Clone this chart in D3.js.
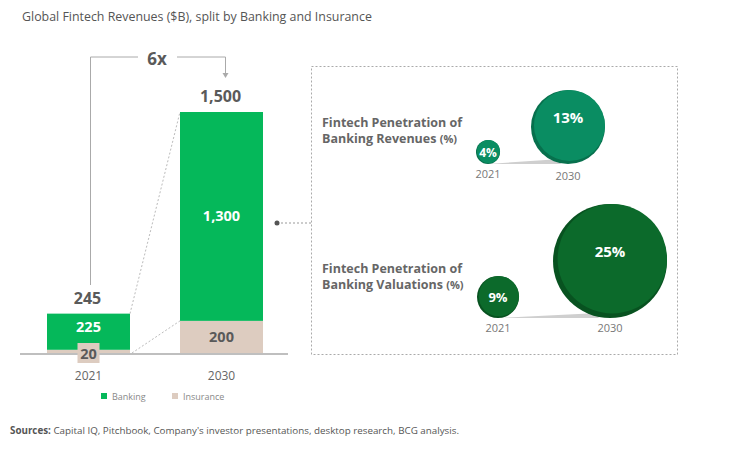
<!doctype html>
<html>
<head>
<meta charset="utf-8">
<style>
	body { margin: 0; background: #fff; }
	text { font-family: "Open Sans", "Noto Sans", sans-serif; }
</style>
</head>
<body>
	<div class="figure"></div>

	<script src="https://d3js.org/d3.v7.min.js"></script>
	<script>
		// данные
		let years = ["2021", "2030"];
		let banking = [225, 1300];
		let insurance = [20, 200];
		let multiple = "6x";
		let seriesNames = ["Banking", "Insurance"];
		let revenuePen = [4, 13];
		let valuationPen = [9, 25];

		let GREEN = "#05b85a";
		let BEIGE = "#ddccc0";
		let GREY = "#5a5a5a";

		let svg = d3.select(".figure")
			.append("svg")
			.attr("width", 740)
			.attr("height", 454);

		svg.append("text")
			.attr("x", 22).attr("y", 21)
			.style("font-size", "12.4px").style("fill", "#555")
			.text("Global Fintech Revenues ($B), split by Banking and Insurance");

		// столбцы
		let x = d3.scaleBand().domain(years).range([22, 288]).paddingInner(0.376).paddingOuter(0.188);
		let y = d3.scaleLinear().domain([0, 1500]).range([353, 112]);

		let rows = years.map((yr, i) => ({ year: yr, banking: banking[i], insurance: insurance[i], total: banking[i] + insurance[i] }));

		svg.selectAll("rect.ins").data(rows).enter().append("rect")
			.attr("x", d => x(d.year)).attr("width", x.bandwidth())
			.attr("y", d => y(d.insurance)).attr("height", d => y(0) - y(d.insurance))
			.style("fill", BEIGE);

		svg.selectAll("rect.bank").data(rows).enter().append("rect")
			.attr("x", d => x(d.year)).attr("width", x.bandwidth())
			.attr("y", d => y(d.total)).attr("height", d => y(d.insurance) - y(d.total))
			.style("fill", GREEN);

		// ось
		svg.append("line").attr("x1", 20).attr("x2", 288).attr("y1", 354).attr("y2", 354)
			.style("stroke", "#aaa").style("stroke-width", 1.5);

		svg.selectAll("text.year").data(years).enter().append("text")
			.attr("x", d => x(d) + x.bandwidth() / 2).attr("y", 380)
			.attr("text-anchor", "middle").style("font-size", "12px").style("fill", "#666")
			.text(d => d);

		// пунктирные линии между столбцами
		let x0 = x(years[0]) + x.bandwidth(), x1 = x(years[1]);
		svg.append("line").attr("x1", x0).attr("y1", y(rows[0].total)).attr("x2", x1).attr("y2", y(rows[1].total))
			.style("stroke", "#bbb").style("stroke-dasharray", "2,2");
		svg.append("line").attr("x1", x0 + 2).attr("y1", y(0)).attr("x2", x1).attr("y2", y(rows[1].insurance))
			.style("stroke", "#bbb").style("stroke-dasharray", "2,2");

		// подписи
		let fmt = d3.format(",");
		svg.selectAll("text.total").data(rows).enter().append("text")
			.attr("x", d => x(d.year) + x.bandwidth() / 2 - 1).attr("y", d => y(d.total) - 10)
			.attr("text-anchor", "middle").style("font-size", "16px").style("font-weight", "bold").style("fill", GREY)
			.text(d => fmt(d.total));

		svg.selectAll("text.bank").data(rows).enter().append("text")
			.attr("x", d => x(d.year) + x.bandwidth() / 2).attr("y", d => (y(d.total) + y(d.insurance)) / 2 + (d.banking < 500 ? 0 : 5))
			.attr("text-anchor", "middle").style("font-size", "14.5px").style("font-weight", "bold").style("fill", "#fff")
			.text(d => fmt(d.banking));

		// "20" с подложкой
		let small = rows[0];
		svg.append("rect").attr("x", x(small.year) + x.bandwidth() / 2 - 11).attr("y", 343).attr("width", 22).attr("height", 20)
			.style("fill", BEIGE);
		svg.append("text").attr("x", x(small.year) + x.bandwidth() / 2).attr("y", 359)
			.attr("text-anchor", "middle").style("font-size", "14.5px").style("font-weight", "bold").style("fill", GREY)
			.text(fmt(small.insurance));
		svg.append("text").attr("x", x(years[1]) + x.bandwidth() / 2).attr("y", (y(0) + y(rows[1].insurance)) / 2 + 5)
			.attr("text-anchor", "middle").style("font-size", "14.5px").style("font-weight", "bold").style("fill", GREY)
			.text(fmt(rows[1].insurance));

		// скобка 6x
		let bl = x(years[0]) + x.bandwidth() / 2 + 2, br = x(years[1]) + x.bandwidth() / 2 + 4;
		svg.append("path").attr("d", `M${bl},285 V57 H138 M177,57 H${br} V75`)
			.style("fill", "none").style("stroke", "#aaa").style("stroke-width", 1);
		svg.append("path").attr("d", `M${br - 3},73 L${br},78 L${br + 3},73 Z`).style("fill", "#aaa");
		svg.append("text").attr("x", 157).attr("y", 65).attr("text-anchor", "middle")
			.style("font-size", "17px").style("font-weight", "bold").style("fill", GREY).text(multiple);

		// легенда
		let legend = svg.selectAll("g.leg").data(seriesNames).enter().append("g")
			.attr("transform", (d, i) => `translate(${101 + i * 71},393)`);
		legend.append("rect").attr("width", 6).attr("height", 6).style("fill", (d, i) => i ? BEIGE : GREEN);
		legend.append("text").attr("x", 11).attr("y", 6.5).style("font-size", "9px").style("fill", "#888").text(d => d);

		// рамка справа
		svg.append("rect").attr("x", 311.5).attr("y", 66.5).attr("width", 366).attr("height", 288)
			.style("fill", "none").style("stroke", "#aaa").style("stroke-dasharray", "2,2");
		svg.append("line").attr("x1", 277).attr("x2", 311).attr("y1", 223).attr("y2", 223)
			.style("stroke", "#999").style("stroke-dasharray", "2,2");
		svg.append("circle").attr("cx", 277).attr("cy", 223).attr("r", 2.5).style("fill", "#555");

		// пузыри
		let groups = [
			{ lines: ["Fintech Penetration of", "Banking Revenues"], values: revenuePen, base: 164, xr: [488, 568], rmax: 37, rmin: 12, ty: 127, yl: [178, 180], fill: "#0a8d62", rim: "#07704d" },
			{ lines: ["Fintech Penetration of", "Banking Valuations"], values: valuationPen, base: 318, xr: [498, 610], rmax: 57, rmin: 21, ty: 273, yl: [332, 332], fill: "#0c6a2b", rim: "#085220" }
		];

		groups.forEach(g => {
			let t = svg.append("text").attr("x", 322).attr("y", g.ty)
				.style("font-size", "12.5px").style("font-weight", "bold").style("fill", "#666");
			t.append("tspan").attr("x", 322).text(g.lines[0]);
			t.append("tspan").attr("x", 322).attr("dy", 16).text(g.lines[1] + " ");
			t.append("tspan").style("font-size", "11px").text("(%)");

			let px = d3.scalePoint().domain(years).range(g.xr);
			let r = d3.scaleLinear().domain(g.values).range([g.rmin, g.rmax]);

			// тень
			let sx = px(years[0]), ex = px(years[1]) - r(g.values[1]) * 0.2;
			svg.append("path").attr("d", `M${sx},${g.base} L${ex},${g.base - 5} L${ex},${g.base} Z`).style("fill", "#cfcfcf");

			g.values.forEach((v, i) => {
				let cx = px(years[i]), rr = r(v), cy = g.base - rr;
				svg.append("circle").attr("cx", cx).attr("cy", cy).attr("r", rr).style("fill", g.rim);
				svg.append("circle").attr("cx", cx + rr * 0.04).attr("cy", cy - rr * 0.04).attr("r", rr * 0.96).style("fill", g.fill);
				svg.append("text").attr("x", cx).attr("y", cy + (i ? -4 : 4.5))
					.attr("text-anchor", "middle")
					.style("font-size", i ? "15px" : (rr < 15 ? "12px" : "13px"))
					.style("font-weight", "bold").style("fill", "#fff").text(v + "%");
				svg.append("text").attr("x", cx).attr("y", g.yl[i]).attr("text-anchor", "middle")
					.style("font-size", "11px").style("fill", "#777").text(years[i]);
			});
		});

		// источники
		let src = svg.append("text").attr("x", 10).attr("y", 434).style("font-size", "9.8px").style("fill", "#555");
		src.append("tspan").style("font-weight", "bold").text("Sources: ");
		src.append("tspan").text("Capital IQ, Pitchbook, Company's investor presentations, desktop research, BCG analysis.");
	</script>
</body>
</html>
